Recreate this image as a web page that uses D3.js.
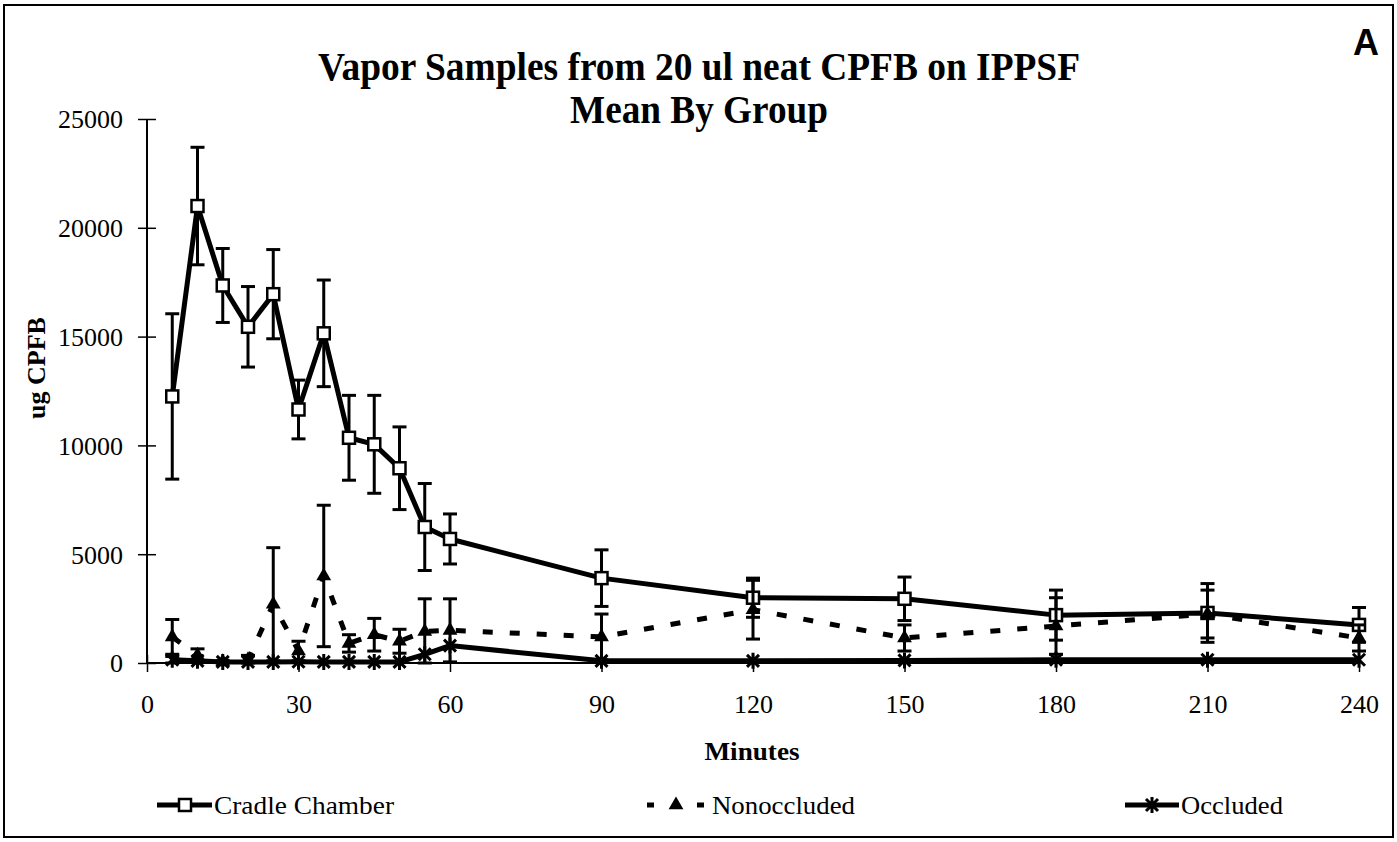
<!DOCTYPE html>
<html>
<head>
<meta charset="utf-8">
<script src="https://cdn.jsdelivr.net/npm/d3@7"></script>
<style>
  html, body { margin: 0; padding: 0; background: #fff; }
  svg { display: block; }
  text { font-family: "Liberation Serif", "Times New Roman", serif; fill: #000; }
</style>
</head>
<body>
<svg id="chart" width="1397" height="842"></svg>
<script>
// ---------- data ----------
const minutes = [5, 10, 15, 20, 25, 30, 35, 40, 45, 50, 55, 60, 90, 120, 150, 180, 210, 240];
const cradleMean = [12250, 21000, 17350, 15450, 16950, 11650, 15150, 10350, 10050, 8950, 6250, 5700, 3900, 3000, 2950, 2200, 2300, 1750];
const cradleErr  = [3800, 2700, 1700, 1850, 2050, 1350, 2450, 1950, 2250, 1900, 2000, 1150, 1300, 900, 1000, 1150, 1350, 800];
const nonoccMean = [1200, 350, 50, 150, 2700, 550, 4000, 900, 1300, 1000, 1450, 1500, 1200, 2450, 1150, 1700, 2250, 1150];
const nonoccErr  = [800, 300, 50, 200, 2600, 450, 3250, 400, 750, 550, 1500, 1450, 1050, 1350, 600, 1300, 1100, 600];
const occMean    = [150, 100, 50, 50, 50, 60, 50, 50, 50, 50, 400, 800, 100, 100, 120, 150, 150, 150];
const occErr     = [150, 0, 0, 0, 0, 0, 0, 0, 0, 0, 0, 0, 0, 0, 0, 0, 0, 0];
const xTicks = [0, 30, 60, 90, 120, 150, 180, 210, 240];
const yTicks = [0, 5000, 10000, 15000, 20000, 25000];
const seriesNames = ["Cradle Chamber", "Nonoccluded", "Occluded"];
const titleLines = ["Vapor Samples from 20 ul neat CPFB on IPPSF", "Mean By Group"];

// ---------- setup ----------
const svg = d3.select("#chart");
const x = d3.scaleLinear().domain([0, 240]).range([147, 1359]);
const y = d3.scaleLinear().domain([0, 25000]).range([663, 119]);

function fitWidth(sel, w) {
  sel.attr("textLength", w).attr("lengthAdjust", "spacingAndGlyphs");
}

// outer frame
svg.append("rect").attr("x", 4).attr("y", 5).attr("width", 1389).attr("height", 832)
  .attr("fill", "none").attr("stroke", "#000").attr("stroke-width", 2);

// title
const titleX = 699;
svg.append("text").attr("x", titleX).attr("y", 80).attr("text-anchor", "middle")
  .attr("font-size", 40).attr("font-weight", "bold").text(titleLines[0]).call(fitWidth, 762);
svg.append("text").attr("x", titleX).attr("y", 123).attr("text-anchor", "middle")
  .attr("font-size", 40).attr("font-weight", "bold").text(titleLines[1]).call(fitWidth, 258);

// panel letter
svg.append("text").attr("x", 1366).attr("y", 55).attr("text-anchor", "middle")
  .style("font-family", "'Liberation Sans', Arial, sans-serif")
  .attr("font-size", 36).attr("font-weight", "bold").text("A");

// axes
const yAxis = svg.append("g").attr("transform", `translate(${x(0)},0)`)
  .call(d3.axisLeft(y).tickValues(yTicks).tickSize(8).tickPadding(16).tickFormat(d3.format("d")));
yAxis.select(".domain").attr("stroke-width", 2).attr("d", `M0,${y(25000)}V${y(0)}`);
yAxis.selectAll(".tick line").attr("x1", 9).attr("x2", -9).attr("stroke-width", 1.5);
yAxis.selectAll(".tick text").attr("font-size", 26).style("font-family", "'Liberation Serif', serif").attr("dy", "0.34em");

const xAxis = svg.append("g").attr("transform", `translate(0,${y(0)})`)
  .call(d3.axisBottom(x).tickValues(xTicks).tickSize(8).tickPadding(24));
xAxis.select(".domain").attr("stroke-width", 2).attr("d", `M${x(0)},0H${x(240)}`);
xAxis.selectAll(".tick line").attr("y1", -8).attr("y2", 9).attr("stroke-width", 1.5);
xAxis.selectAll(".tick text").attr("font-size", 26).style("font-family", "'Liberation Serif', serif");

// axis titles
svg.append("text").attr("transform", "translate(45,368) rotate(-90)").attr("text-anchor", "middle")
  .attr("font-size", 26).attr("font-weight", "bold").text("ug CPFB");
svg.append("text").attr("x", 752).attr("y", 760).attr("text-anchor", "middle")
  .attr("font-size", 26).attr("font-weight", "bold").text("Minutes").call(fitWidth, 95);

// ---------- series ----------
const line = d3.line().x(d => x(d.t)).y(d => y(d.v));
function rows(mean, err) { return minutes.map((t, i) => ({ t, v: mean[i], e: err[i] })); }
const cradle = rows(cradleMean, cradleErr);
const nonocc = rows(nonoccMean, nonoccErr);
const occ = rows(occMean, occErr);

function errorBars(data) {
  const g = svg.append("g").attr("stroke", "#000").attr("stroke-width", 3);
  data.filter(d => d.e > 0).forEach(d => {
    const cx = x(d.t), y1 = y(d.v + d.e), y2 = y(Math.max(0, d.v - d.e));
    g.append("line").attr("x1", cx).attr("x2", cx).attr("y1", y1).attr("y2", y2);
    g.append("line").attr("x1", cx - 7).attr("x2", cx + 7).attr("y1", y1).attr("y2", y1);
    g.append("line").attr("x1", cx - 7).attr("x2", cx + 7).attr("y1", y2).attr("y2", y2);
  });
}

const sq = 12;
const triPath = d3.symbol().type(d3.symbolTriangle).size(95)();
const starPath = "M-6,-6L6,6M-6,6L6,-6M0,-8L0,8";

function drawSquare(g, cx, cy) {
  g.append("rect").attr("x", cx - sq / 2).attr("y", cy - sq / 2).attr("width", sq).attr("height", sq)
    .attr("fill", "#fff").attr("stroke", "#000").attr("stroke-width", 2.5);
}
function drawTri(g, cx, cy) {
  g.append("path").attr("d", triPath).attr("transform", `translate(${cx},${cy})`).attr("fill", "#000");
}
function drawStar(g, cx, cy) {
  g.append("path").attr("d", starPath).attr("transform", `translate(${cx},${cy})`)
    .attr("stroke", "#000").attr("stroke-width", 3).attr("fill", "none");
}

// Cradle Chamber
errorBars(cradle);
svg.append("path").datum(cradle).attr("d", line).attr("fill", "none").attr("stroke", "#000").attr("stroke-width", 5).attr("stroke-linejoin", "round");
const gC = svg.append("g");
cradle.forEach(d => drawSquare(gC, x(d.t), y(d.v)));

// Nonoccluded
errorBars(nonocc);
svg.append("path").datum(nonocc).attr("d", line).attr("fill", "none").attr("stroke", "#000").attr("stroke-width", 5).attr("stroke-dasharray", "10,17");
const gN = svg.append("g");
nonocc.forEach(d => drawTri(gN, x(d.t), y(d.v)));

// Occluded
errorBars(occ);
svg.append("path").datum(occ).attr("d", line).attr("fill", "none").attr("stroke", "#000").attr("stroke-width", 5);
const gO = svg.append("g");
occ.forEach(d => drawStar(gO, x(d.t), y(d.v)));

// ---------- legend ----------
const ly = 805;
const lg = svg.append("g");
lg.append("line").attr("x1", 157).attr("x2", 212).attr("y1", ly).attr("y2", ly).attr("stroke", "#000").attr("stroke-width", 5);
drawSquare(lg, 185, ly);
lg.append("text").attr("x", 214).attr("y", ly + 9).attr("font-size", 26).text(seriesNames[0]).call(fitWidth, 180);

lg.append("line").attr("x1", 647).attr("x2", 654).attr("y1", ly).attr("y2", ly).attr("stroke", "#000").attr("stroke-width", 5);
lg.append("line").attr("x1", 697).attr("x2", 704).attr("y1", ly).attr("y2", ly).attr("stroke", "#000").attr("stroke-width", 5);
drawTri(lg, 676, ly);
lg.append("text").attr("x", 712).attr("y", ly + 9).attr("font-size", 26).text(seriesNames[1]).call(fitWidth, 143);

lg.append("line").attr("x1", 1125).attr("x2", 1179).attr("y1", ly).attr("y2", ly).attr("stroke", "#000").attr("stroke-width", 5);
drawStar(lg, 1152, ly);
lg.append("text").attr("x", 1181).attr("y", ly + 9).attr("font-size", 26).text(seriesNames[2]).call(fitWidth, 102);
</script>
</body>
</html>
